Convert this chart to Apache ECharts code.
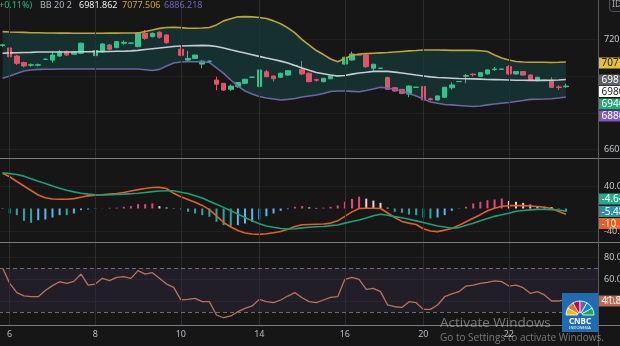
<!DOCTYPE html>
<html>
<head>
<meta charset="utf-8">
<script src="https://cdn.jsdelivr.net/npm/echarts@6/dist/echarts.min.js"></script>
<style>
  html, body { margin: 0; padding: 0; background: #161616; }
  #chart { width: 620px; height: 346px; }
</style>
</head>
<body>
<div id="chart"></div>
<script>
// ---- session layout: day labels on the time axis and the bar slot they sit on
const dayLabels = ['6', '8', '10', '14', '16', '20', '22'];
const dayIndex = [1, 13, 25, 36, 48, 59, 71];
const slotCount = 84;

// ---- price bars: [open, close, low, high]
const candles = [
  [7168, 7171, 7160, 7176], [7154, 7106, 7103, 7180], [7110, 7070, 7061, 7116], [7074, 7056, 7048, 7079],
  [7060, 7062, 7052, 7070], [7060, 7062, 7053, 7069], [7092, 7093, 7090, 7095], [7088, 7116, 7074, 7134],
  [7110, 7134, 7105, 7143], [7134, 7116, 7110, 7140], [7120, 7134, 7116, 7138], [7125, 7180, 7120, 7184],
  [7134, 7135, 7132, 7137], [7112, 7140, 7092, 7148], [7134, 7176, 7127, 7181], [7170, 7147, 7142, 7175],
  [7156, 7189, 7152, 7192], [7180, 7185, 7172, 7195], [7180, 7181, 7178, 7182], [7161, 7237, 7159, 7241],
  [7234, 7207, 7198, 7252], [7216, 7234, 7212, 7238], [7240, 7213, 7205, 7245], [7225, 7183, 7176, 7228],
  [7162, 7163, 7161, 7164], [7147, 7114, 7109, 7163], [7088, 7097, 7083, 7138], [7097, 7115, 7094, 7118],
  [7066, 7082, 7043, 7088], [7081, 7082, 7079, 7084], [6979, 6956, 6924, 6997], [6961, 6924, 6919, 6963],
  [6928, 6946, 6920, 6955], [6943, 6965, 6935, 6968], [6961, 6983, 6957, 6986], [6994, 6995, 6992, 6996],
  [6943, 7034, 6924, 7037], [7024, 6997, 6994, 7034], [7001, 6986, 6970, 7003], [6994, 7016, 6990, 7019],
  [7006, 7030, 7003, 7033], [7058, 7059, 7057, 7060], [7037, 7012, 7006, 7083], [7016, 6970, 6966, 7020],
  [6981, 6978, 6970, 6986], [6970, 6988, 6966, 6990], [6986, 7001, 6983, 7003], [7001, 7002, 7000, 7003],
  [7066, 7103, 7063, 7106], [7088, 7121, 7085, 7134], [7117, 7115, 7114, 7118], [7116, 7052, 7045, 7118],
  [7043, 7065, 7030, 7068], [7043, 7044, 7041, 7045], [6992, 6928, 6926, 6997], [6937, 6919, 6914, 6940],
  [6928, 6906, 6902, 6930], [6902, 6946, 6885, 6950], [6939, 6940, 6937, 6941], [6943, 6870, 6864, 6957],
  [6876, 6873, 6866, 6882], [6870, 6892, 6867, 6894], [6885, 6939, 6882, 6942], [6937, 6952, 6926, 6966],
  [6970, 6971, 6968, 6972], [7000, 7003, 6961, 7012], [7011, 7008, 6998, 7015], [6999, 7019, 6996, 7022],
  [7012, 7034, 7008, 7037], [7036, 7039, 7030, 7050], [7038, 7039, 7036, 7040], [7052, 7012, 7008, 7061],
  [7012, 7025, 7009, 7028], [7025, 7006, 7003, 7028], [7006, 6979, 6976, 7010], [6975, 6994, 6972, 6997],
  [6977, 6978, 6976, 6979], [6979, 6939, 6935, 6994], [6941, 6938, 6924, 6950], [6942, 6946, 6936, 6959]
];

// ---- Bollinger Bands (20, 2)
const bbUpper = [
  7243, 7241, 7240, 7239, 7237, 7237, 7236, 7236, 7235, 7235,
  7234, 7234, 7234, 7234, 7234, 7235, 7235, 7236, 7236, 7236,
  7244, 7252, 7261, 7266, 7267, 7265, 7262, 7262, 7263, 7266,
  7280, 7302, 7314, 7324, 7325, 7324, 7320, 7315, 7302, 7286,
  7264, 7236, 7200, 7170, 7140, 7118, 7094, 7079, 7097, 7113,
  7121, 7123, 7125, 7127, 7129, 7132, 7135, 7138, 7140, 7143,
  7143, 7143, 7142, 7141, 7141, 7141, 7141, 7139, 7135, 7116,
  7099, 7088, 7080, 7077, 7076, 7076, 7076, 7075, 7076, 7077.506
];
const bbBasis = [
  7125, 7127, 7128, 7129, 7130, 7132, 7132, 7132, 7132, 7132,
  7132, 7133, 7133, 7134, 7134, 7135, 7136, 7136, 7138, 7141,
  7146, 7150, 7154, 7158, 7162, 7165, 7166, 7167, 7168, 7167,
  7162, 7154, 7144, 7135, 7126, 7117, 7108, 7099, 7091, 7082,
  7072, 7058, 7045, 7032, 7020, 7013, 7006, 7001, 7004, 7011,
  7017, 7021, 7026, 7027, 7026, 7022, 7017, 7012, 7006, 7001,
  6996, 6993, 6991, 6989, 6987, 6986, 6985, 6984, 6982, 6981,
  6980, 6979, 6978, 6978, 6977, 6977, 6977, 6978, 6979, 6981.862
];
const bbLower = [
  6988, 7001, 7015, 7028, 7034, 7037, 7038, 7038, 7039, 7039,
  7039, 7039, 7039, 7039, 7039, 7039, 7039, 7039, 7039, 7039,
  7035, 7031, 7037, 7056, 7072, 7077, 7079, 7079, 7079, 7075,
  7045, 7015, 6979, 6946, 6919, 6903, 6889, 6881, 6875, 6870,
  6873, 6878, 6886, 6892, 6897, 6905, 6916, 6919, 6919, 6917,
  6915, 6922, 6930, 6939, 6935, 6927, 6919, 6905, 6892, 6875,
  6859, 6852, 6845, 6843, 6840, 6837, 6834, 6837, 6843, 6848,
  6852, 6856, 6862, 6867, 6873, 6874, 6875, 6877, 6881, 6886.218
];

// ---- MACD (12, 26, 9)
const macdLine = [
  62.6, 56.5, 48, 40, 32, 24, 19, 17, 16.3, 16.5,
  17.5, 20, 22.5, 23.5, 24.3, 25.5, 26.5, 28.5, 31, 33.5,
  35.5, 37.2, 37.5, 35.5, 27, 21, 16, 11, 5.5, -2,
  -13, -25, -33, -39, -43.5, -45.5, -46, -45, -43, -41,
  -37, -32, -29, -28.5, -28, -27.5, -26, -22, -14, -6,
  0, 0.5, 0.5, 0, -8, -16, -23, -26, -28.5, -36,
  -40, -41.2, -38.5, -35.5, -30, -23.5, -17.5, -11, -4, 0.5,
  4, 5, 5, 5, 4.5, 3.5, 2.2, 0, -5.5, -10.12
];
const signalLine = [
  63.5, 62, 60.5, 57.5, 53, 48.5, 44.5, 40, 36, 32.5,
  29.5, 27, 25.5, 24.5, 24, 24.3, 25, 25.5, 26.3, 27,
  28.5, 30, 31, 31.5, 31.5, 29, 26.5, 22.5, 18.5, 13,
  7.5, 2, -4, -10, -16, -22, -27, -31, -33.5, -35.5,
  -36.4, -36, -34.5, -33.5, -32.5, -32, -30.5, -29.3, -26, -23,
  -20.4, -17, -13, -10.3, -12, -14.5, -16.5, -19, -22, -25,
  -28, -31, -33, -35, -34, -30, -26.3, -22, -18, -14,
  -11, -8.5, -5, -3.5, -2.5, -1.5, -1.6, -2.2, -2.8, -4.64
];
const histogram = [
  -1, -8.9, -11.9, -21.9, -25.5, -20.8, -19.6, -16, -11.9, -11.9,
  -8.9, -3, -1.8, -0.8, 0.3, 1.2, 1.5, 3, 4.2, 7.7,
  7.7, 8.9, 4.2, 1.8, -1, -1.8, -5.9, -8.9, -11.9, -14.8,
  -23.7, -29.7, -32.6, -29.7, -26.7, -23.7, -19.6, -13.6, -8.9, -4.2,
  -1.2, 3, 4.2, 2, 1, 1.5, 3, 5.5, 12, 17,
  21, 17.5, 14, 10, 1.5, -5.9, -7.7, -10.7, -11.9, -16,
  -17.8, -16, -11.9, -4.2, -0.5, 3, 8.9, 11.9, 14.8, 16,
  17.8, 13.6, 11.9, 10, 7, 4.2, 3, 2.5, -1.2, -5.48
];

// ---- RSI (14)
const rsi = [
  70, 56, 47.6, 44.6, 43.9, 43.9, 49.5, 54, 57.5, 56,
  57.8, 64.5, 54.5, 55.4, 60.6, 58.5, 61.5, 62.1, 60.6, 67.6,
  64.5, 65.7, 60.6, 55.4, 52.4, 41, 41.5, 42.4, 39.4, 39.4,
  27.3, 24.8, 26.4, 30.3, 33.3, 35.5, 41.5, 39.4, 38.5, 40.9,
  44.5, 47.6, 43, 39.4, 38.5, 40.9, 43.3, 43.9, 59.7, 61.5,
  59.7, 50.6, 51.5, 48.5, 36.4, 34.8, 34.2, 39.4, 38.5, 32.4,
  32.4, 36.4, 43.9, 46.4, 48.5, 53.6, 54.5, 56, 57, 58.2,
  57.6, 53.6, 54.5, 52.1, 47, 48.5, 45.5, 40, 40, 41.82
];
const rsiBands = [70, 30];

// ---- scale ticks (grid levels) and the levels that carry a printed label
const priceTicks = [6600, 6800, 7000, 7200];
const priceLabels = [6600, 7200];
const macdTicks = [-40, 40];
const rsiTicks = [40, 60, 80];

const FONT = '"Noto Sans", "DejaVu Sans", sans-serif';
const UP = '#31c48c';
const DOWN = '#e2546c';

const chart = echarts.init(document.getElementById('chart'), null, {
  renderer: 'canvas', width: 620, height: 346
});

const categories = Array.from({ length: slotCount }, (_, i) => String(i));
const dayLines = dayIndex.map(i => ({ xAxis: categories[i] }));
const vGridStyle = { color: '#2d2d2d', width: 1, type: 'solid' };

const histData = histogram.map((v, i) => {
  const prev = i > 0 ? histogram[i - 1] : v;
  let color;
  if (v >= 0) color = v >= prev ? '#e5467e' : '#f2d0d8';
  else color = v <= prev ? '#2aa6a6' : '#5cb6ea';
  return { value: v, itemStyle: { color } };
});

const bandWidth = bbUpper.map((u, i) => u - bbLower[i]);

const axisText = { color: '#c3c6cc', fontSize: 9, fontFamily: FONT, margin: 6 };

function gridDef(top, height) {
  return { left: -1, width: 599, top, height, show: false, containLabel: false, outerBoundsMode: 'none' };
}

function xAxisDef(gridIndex, showLabels) {
  return {
    type: 'category', gridIndex, data: categories, boundaryGap: true,
    axisLine: { show: false }, axisTick: { show: false }, splitLine: { show: false },
    axisLabel: showLabels ? {
      show: true, color: '#b8bbc2', fontSize: 9, fontFamily: FONT, margin: 5,
      interval: (idx) => dayIndex.includes(idx),
      formatter: (v) => { const j = dayIndex.indexOf(Number(v)); return j >= 0 ? dayLabels[j] : ''; }
    } : { show: false }
  };
}

function yAxisDef(gridIndex, min, max, ticks, labels, digits) {
  return {
    type: 'value', gridIndex, position: 'right', min, max,
    axisLine: { show: false },
    axisTick: { show: false, customValues: ticks },
    axisLabel: Object.assign({}, axisText, { customValues: labels, formatter: v => Number(v).toFixed(digits) }),
    splitLine: { show: true, lineStyle: { color: '#1f1f1f', width: 1 } }
  };
}

function lineSeries(name, data, color, xi, z) {
  return {
    name, type: 'line', xAxisIndex: xi, yAxisIndex: xi, data,
    symbol: 'none', silent: true, z,
    lineStyle: { color, width: 1.6 }
  };
}

// price-scale and indicator tags on the right edge
function tag(y, fill, text, textColor) {
  return {
    type: 'group', z: 50,
    children: [
      { type: 'rect', shape: { x: 598, y, width: 30, height: 11 }, style: { fill } },
      { type: 'text', x: 601.5, y: y + 5.8, style: { text, fill: textColor, font: '10px ' + FONT, verticalAlign: 'middle', align: 'left' } }
    ]
  };
}

function label(x, y, text, fill, font) {
  return { type: 'text', x, y, z: 60, style: { text, fill, font: font || ('9px ' + FONT), verticalAlign: 'middle', align: 'left' } };
}

// peacock feathers for the broadcaster mark
const feathers = ['#fcb711', '#f37021', '#cc004c', '#6460aa', '#0089d0', '#0db14b'].map((c, i) => ({
  type: 'sector', z: 71,
  shape: { cx: 580, cy: 315, r0: 2.5, r: 14, startAngle: Math.PI + i * Math.PI / 6, endAngle: Math.PI + (i + 1) * Math.PI / 6 },
  style: { fill: c, stroke: '#ffffff', lineWidth: 0.8 }
}));

const option = {
  backgroundColor: '#161616',
  animation: false,
  grid: [gridDef(0, 158), gridDef(159, 83), gridDef(243, 82)],
  xAxis: [xAxisDef(0, false), xAxisDef(1, false), xAxisDef(2, true)],
  yAxis: [
    yAxisDef(0, 6553, 7416, priceTicks, priceLabels, 3),
    yAxisDef(1, -59.6, 88, macdTicks, macdTicks, 2),
    yAxisDef(2, 18.2, 92.7, rsiTicks, rsiTicks, 2)
  ],
  series: [
    // band shading between the outer bands
    { name: 'bandBase', type: 'line', xAxisIndex: 0, yAxisIndex: 0, data: bbLower, stack: 'band',
      symbol: 'none', silent: true, z: 1, lineStyle: { width: 0, opacity: 0 } },
    { name: 'bandFill', type: 'line', xAxisIndex: 0, yAxisIndex: 0, data: bandWidth, stack: 'band',
      symbol: 'none', silent: true, z: 1, lineStyle: { width: 0, opacity: 0 },
      areaStyle: { color: '#16302f', opacity: 1 } },
    {
      name: 'price', type: 'candlestick', xAxisIndex: 0, yAxisIndex: 0, data: candles, z: 3,
      barWidth: 5, silent: true,
      itemStyle: { color: UP, color0: DOWN, borderColor: UP, borderColor0: DOWN, borderWidth: 1 },
      markLine: { silent: true, symbol: ['none', 'none'], label: { show: false }, lineStyle: vGridStyle, data: dayLines }
    },
    lineSeries('BB upper', bbUpper, '#bfa436', 0, 4),
    lineSeries('BB basis', bbBasis, '#c5ccd2', 0, 4),
    lineSeries('BB lower', bbLower, '#6a67a6', 0, 4),
    {
      name: 'histogram', type: 'bar', xAxisIndex: 1, yAxisIndex: 1, data: histData,
      barWidth: 2, silent: true, z: 2,
      markLine: { silent: true, symbol: ['none', 'none'], label: { show: false }, lineStyle: vGridStyle, data: dayLines }
    },
    lineSeries('MACD', macdLine, '#e0602a', 1, 4),
    lineSeries('Signal', signalLine, '#1f9e7c', 1, 5),
    {
      name: 'RSI', type: 'line', xAxisIndex: 2, yAxisIndex: 2, data: rsi,
      symbol: 'none', silent: true, z: 4,
      lineStyle: { color: '#b8735f', width: 1.3 },
      markArea: { silent: true, itemStyle: { color: 'rgba(126, 96, 190, 0.11)' },
        data: [[{ yAxis: rsiBands[0] }, { yAxis: rsiBands[1] }]] },
      markLine: { silent: true, symbol: ['none', 'none'], label: { show: false }, lineStyle: vGridStyle,
        data: dayLines.concat(rsiBands.map(v => ({ yAxis: v, lineStyle: { color: '#6c6c6c', width: 1, type: [4, 3] } }))) }
    }
  ],
  graphic: [
    // pane separators and the price scale border
    { type: 'line', z: 40, shape: { x1: 0, y1: 158.5, x2: 620, y2: 158.5 }, style: { stroke: '#7a7a7a', lineWidth: 1 } },
    { type: 'line', z: 40, shape: { x1: 0, y1: 242.5, x2: 620, y2: 242.5 }, style: { stroke: '#7a7a7a', lineWidth: 1 } },
    { type: 'line', z: 40, shape: { x1: 0, y1: 325.5, x2: 620, y2: 325.5 }, style: { stroke: '#7a7a7a', lineWidth: 1 } },
    { type: 'line', z: 40, shape: { x1: 598.5, y1: 0, x2: 598.5, y2: 346 }, style: { stroke: '#5a5a5a', lineWidth: 1 } },

    // legend line of the Bollinger study
    label(-1, 5, '+0.11%)', '#2bb683'),
    label(40, 5, 'BB 20 2', '#b2b5be'),
    label(79, 5, '6981.862', '#eeeeee'),
    label(122, 5, '7077.506', '#c9a43c'),
    label(164, 5, '6886.218', '#7363b6'),

    // symbol badge, top right
    { type: 'rect', z: 60, shape: { x: 609.5, y: -4.5, width: 16, height: 16, r: 3 }, style: { fill: '#1b1b1b', stroke: '#505050', lineWidth: 1 } },
    label(612, 4, 'ID', '#a8abb2'),

    // last-value tags
    tag(57.5, '#e8c12c', '7077.506', '#1b1b1b'),
    tag(74.5, '#5e6167', '6981.862', '#ffffff'),
    tag(86, '#ffffff', '6980.950', '#1b1b1b'),
    tag(98.5, '#22ab78', '6946.000', '#ffffff'),
    tag(110.5, '#7e57c2', '6886.218', '#ffffff'),
    tag(193.5, '#1fae8c', '-4.64', '#ffffff'),
    tag(206, '#2a90a4', '-5.48', '#ffffff'),
    tag(218, '#f05a1e', '-10.12', '#ffffff'),
    tag(295.5, '#c2674c', '41.82', '#ffffff'),

    // broadcaster mark
    { type: 'rect', z: 70, shape: { x: 562, y: 293, width: 36, height: 39 }, style: { fill: '#1f6db0' } },
    ...feathers,
    { type: 'text', z: 72, x: 580, y: 322, style: { text: 'CNBC', fill: '#ffffff', font: 'bold 8px ' + FONT, align: 'center', verticalAlign: 'middle' } },
    { type: 'text', z: 72, x: 580, y: 328, style: { text: 'INDONESIA', fill: '#ffffff', font: '4px ' + FONT, align: 'center', verticalAlign: 'middle' } },

    // system watermark text
    { type: 'text', z: 90, x: 440, y: 323, style: { text: 'Activate Windows', fill: 'rgba(215,215,215,0.5)', font: '13.5px "Open Sans", ' + FONT, verticalAlign: 'middle', align: 'left' } },
    { type: 'text', z: 90, x: 440, y: 338, style: { text: 'Go to Settings to activate Windows.', fill: 'rgba(215,215,215,0.5)', font: '10px "Open Sans", ' + FONT, verticalAlign: 'middle', align: 'left' } }
  ]
};

chart.setOption(option);
</script>
</body>
</html>
